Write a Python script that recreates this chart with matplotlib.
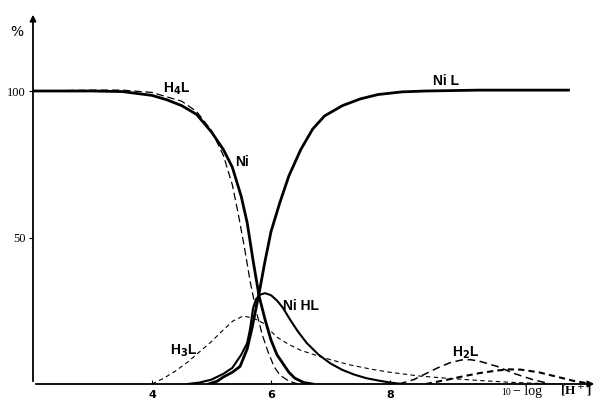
import matplotlib.pyplot as plt

# species distribution (x = 10 - log[H+], y = %)
ni_x = [2.0, 3.0, 3.5, 4.0, 4.25, 4.5, 4.75, 5.0, 5.2, 5.35, 5.5, 5.6, 5.7, 5.8, 5.9, 6.0, 6.1, 6.2, 6.3, 6.4, 6.55, 6.7]
ni_y = [100, 100, 99.8, 98.5, 97, 95, 92, 86, 80, 74, 64, 55, 42, 30, 22, 15, 10, 7, 4, 2, 0.5, 0]

h4l_x = [2.0, 3.0, 3.5, 4.0, 4.5, 4.75, 5.0, 5.2, 5.35, 5.45, 5.55, 5.65, 5.75, 5.85, 5.95, 6.05, 6.15, 6.3, 6.45]
h4l_y = [100, 100.3, 100.3, 99.5, 96.5, 93, 86.5, 78, 68, 58, 47, 35, 25, 17, 11, 6, 3, 1, 0]

nil_x = [4.95, 5.1, 5.2, 5.35, 5.48, 5.6, 5.68, 5.73, 5.8, 5.9, 6.0, 6.15, 6.3, 6.5, 6.7, 6.9, 7.2, 7.5, 7.8, 8.2, 8.6, 9.5, 10.2, 11.0]
nil_y = [0, 1, 2.4, 4, 6, 12, 19, 24, 31, 42, 52, 62, 71, 80, 87, 91.5, 95, 97.3, 98.8, 99.7, 100, 100.3, 100.3, 100.3]

nihl_x = [4.6, 4.8, 5.0, 5.2, 5.35, 5.5, 5.6, 5.65, 5.7, 5.75, 5.82, 5.9, 6.0, 6.1, 6.2, 6.32, 6.45, 6.6, 6.8, 7.0, 7.2, 7.4, 7.6, 7.8, 8.0, 8.2]
nihl_y = [0, 0.5, 1.5, 3.5, 5.5, 10, 14, 19, 26, 29, 30.5, 31, 30.3, 28.5, 26, 22, 18, 14, 10, 7, 4.8, 3.2, 2, 1.2, 0.5, 0]

h3l_x = [4.0, 4.2, 4.4, 4.6, 4.8, 5.0, 5.2, 5.36, 5.53, 5.7, 5.87, 6.0, 6.1, 6.3, 6.5, 6.8, 7.0, 7.33, 7.7, 8.0, 8.5, 9.0, 9.5, 10.0, 10.5, 10.8]
h3l_y = [0, 2, 4.5, 7.5, 11, 14.5, 18.5, 21.5, 23.2, 22.5, 20.8, 18, 16, 13.5, 11.5, 9.5, 8.3, 6.5, 5, 4, 2.7, 1.9, 1.2, 0.6, 0.2, 0]

h2l_x = [8.15, 8.4, 8.6, 8.8, 9.0, 9.2, 9.35, 9.5, 9.8, 10.1, 10.4, 10.7]
h2l_y = [0, 1.5, 3.5, 5.5, 7.2, 8.2, 8.3, 7.8, 6, 3.5, 1.5, 0]

hl_x = [8.6, 8.9, 9.2, 9.5, 9.8, 10.0, 10.2, 10.5, 10.8, 11.1, 11.4]
hl_y = [0, 1.2, 2.5, 3.7, 4.6, 5, 4.9, 4, 2.5, 1.0, 0]

fig = plt.figure(figsize=(6.03, 3.99), dpi=100)
ax = fig.add_axes([33/603, 15/399, 567/603, 376/399])
ax.set_xlim(2.0, 2.0 + 567/59.5)
ax.set_ylim(0, 376/2.93)

ax.plot(ni_x, ni_y, color="black", lw=2.0)
ax.plot(nil_x, nil_y, color="black", lw=2.0)
ax.plot(nihl_x, nihl_y, color="black", lw=1.5)
ax.plot(h4l_x, h4l_y, color="black", lw=0.9, dashes=(6, 3))
ax.plot(h3l_x, h3l_y, color="black", lw=0.8, dashes=(4, 3))
ax.plot(h2l_x, h2l_y, color="black", lw=1.1, dashes=(5, 3))
ax.plot(hl_x, hl_y, color="black", lw=1.5, dashes=(3, 2))

# axes with arrow heads
for s in ax.spines.values():
    s.set_visible(False)
ax.annotate("", xy=(11.48, 0), xytext=(2.0, 0),
            arrowprops=dict(arrowstyle="-|>", lw=1.3, color="black", mutation_scale=9))
ax.annotate("", xy=(2.0, 127), xytext=(2.0, 0),
            arrowprops=dict(arrowstyle="-|>", lw=1.3, color="black", mutation_scale=9))

ax.set_xticks([4, 6, 8])
ax.set_xticklabels(["4", "6", "8"], fontsize=8, fontweight="bold")
ax.set_yticks([50, 100])
ax.set_yticklabels(["50", "100"], fontsize=9, family="Liberation Serif")
ax.tick_params(axis="x", direction="in", length=3, pad=4)
ax.tick_params(axis="y", direction="out", length=3, pad=2)

ax.text(1.73, 120, "%", fontsize=10, ha="center", va="center")

lab = dict(fontsize=10, fontweight="bold", family="Liberation Sans", color="black")
ax.text(4.19, 99.5, "H$_\\mathbf{4}$L", **lab)
ax.text(5.4, 74.5, "Ni", **lab)
ax.text(8.72, 102, "Ni L", **lab)
ax.text(6.2, 25.3, "Ni HL", **lab)
ax.text(4.3, 10, "H$_\\mathbf{3}$L", **lab)
ax.text(9.04, 9.2, "H$_\\mathbf{2}$L", **lab)

ax.text(9.95, -3.6, "10", fontsize=7, family="Liberation Serif", ha="center", va="baseline")
ax.text(10.07, -3.9, "\u2212 log", fontsize=10, family="Liberation Serif", ha="left", va="baseline")
ax.text(10.86, -3.9, "[H$^+$]", fontsize=9.5, family="Liberation Serif", fontweight="bold",
        ha="left", va="baseline")

fig.savefig("out.png", dpi=100)
